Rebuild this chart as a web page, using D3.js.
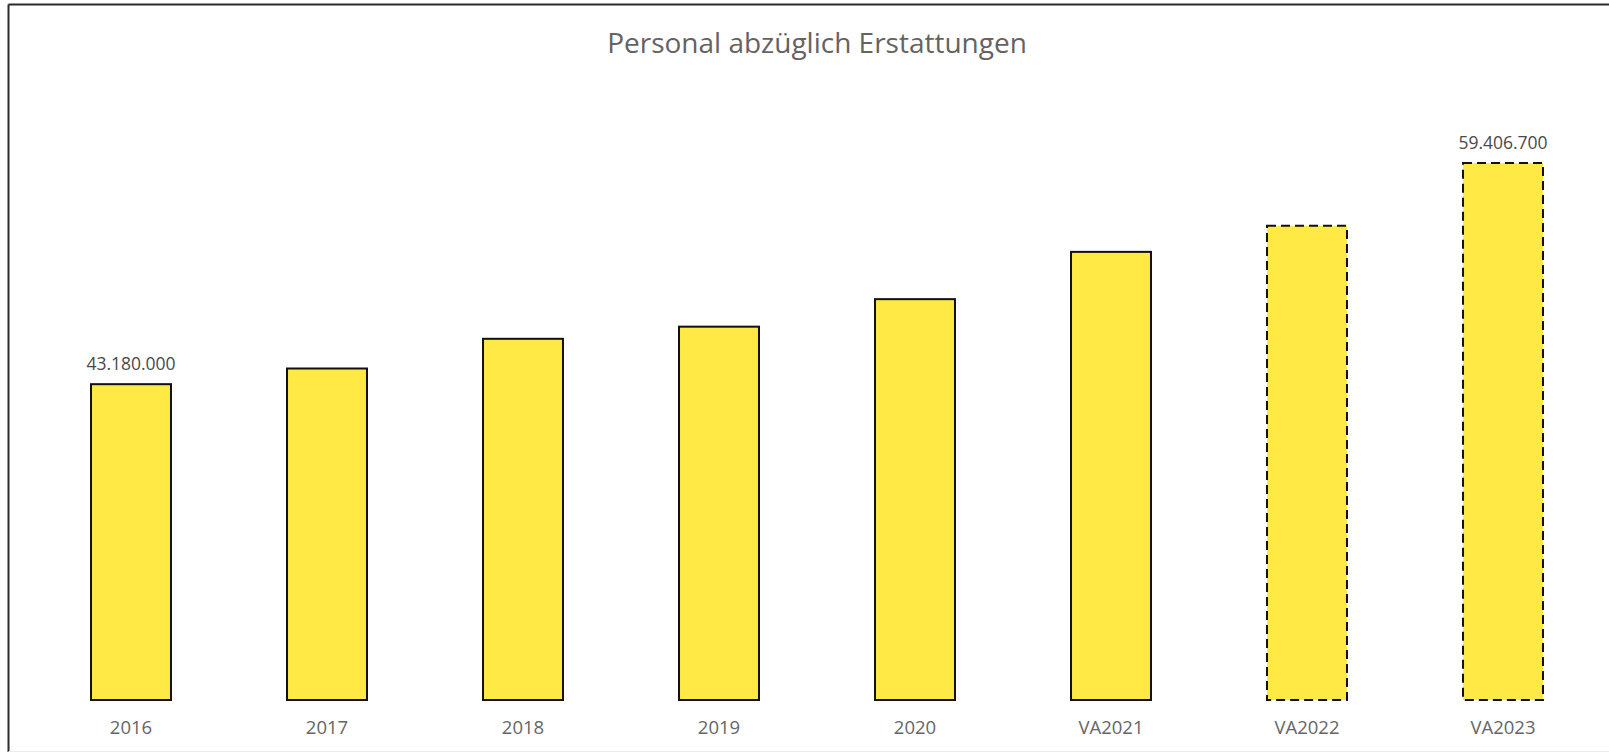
<!DOCTYPE html>
<html>
<head>
<meta charset="utf-8">
<script src="https://cdn.jsdelivr.net/npm/d3@7"></script>
<style>
  html, body { margin: 0; padding: 0; background: #fff; }
  svg { display: block; }
  text { font-family: "Open Sans", "Noto Sans", sans-serif; }
</style>
</head>
<body>
<svg id="chart" width="1609" height="752"></svg>
<script>
const title = "Personal abzüglich Erstattungen";
const categories = ["2016", "2017", "2018", "2019", "2020", "VA2021", "VA2022", "VA2023"];
const values = [43180000, 44330000, 46510000, 47400000, 49420000, 52890000, 54800000, 59406700];
const dashed = [false, false, false, false, false, false, true, true];
const labelled = ["2016", "VA2023"];
const yDomain = [20000000, 60000000];

const svg = d3.select("#chart");
const W = 1609, H = 752;

// frame
svg.append("line").attr("x1", 8.5).attr("x2", W).attr("y1", 4.5).attr("y2", 4.5)
  .attr("stroke", "#2b2b2b").attr("stroke-width", 2);
svg.append("line").attr("x1", 8.5).attr("x2", 8.5).attr("y1", 4.5).attr("y2", H)
  .attr("stroke", "#2b2b2b").attr("stroke-width", 2);
svg.append("line").attr("x1", 8.5).attr("x2", W).attr("y1", 751.5).attr("y2", 751.5)
  .attr("stroke", "#ececec").attr("stroke-width", 1);

const x = d3.scaleBand().domain(categories).range([33, 1601])
  .paddingInner(0.592).paddingOuter(0.296);
const y = d3.scaleLinear().domain(yDomain).range([700, 155]);

const data = categories.map((c, i) => ({ c, v: values[i], dashed: dashed[i] }));

svg.append("text").attr("x", 817).attr("y", 53)
  .attr("text-anchor", "middle").attr("font-size", 28).attr("fill", "#66635f")
  .text(title);

svg.append("g").selectAll("rect").data(data).join("rect")
  .attr("x", d => x(d.c))
  .attr("y", d => y(d.v))
  .attr("width", x.bandwidth())
  .attr("height", d => y(yDomain[0]) - y(d.v))
  .attr("fill", "#FFE945")
  .attr("stroke", "#111")
  .attr("stroke-width", 2)
  .attr("stroke-dasharray", d => d.dashed ? "9,5" : null);

svg.append("g").selectAll("text").data(data.filter(d => labelled.includes(d.c))).join("text")
  .attr("x", d => x(d.c) + x.bandwidth() / 2)
  .attr("y", d => y(d.v) - 14)
  .attr("text-anchor", "middle").attr("font-size", 17.5).attr("fill", "#4a4a4a")
  .text(d => d3.format(",")(d.v).replace(/,/g, "."));

const xAxis = svg.append("g").attr("transform", "translate(0,700)")
  .call(d3.axisBottom(x).tickSize(0).tickPadding(0));
xAxis.select(".domain").remove();
xAxis.selectAll("text").attr("dy", null).attr("y", 34)
  .attr("font-size", 18.5).attr("fill", "#666")
  .attr("font-family", "'Open Sans', 'Noto Sans', sans-serif");
</script>
</body>
</html>
